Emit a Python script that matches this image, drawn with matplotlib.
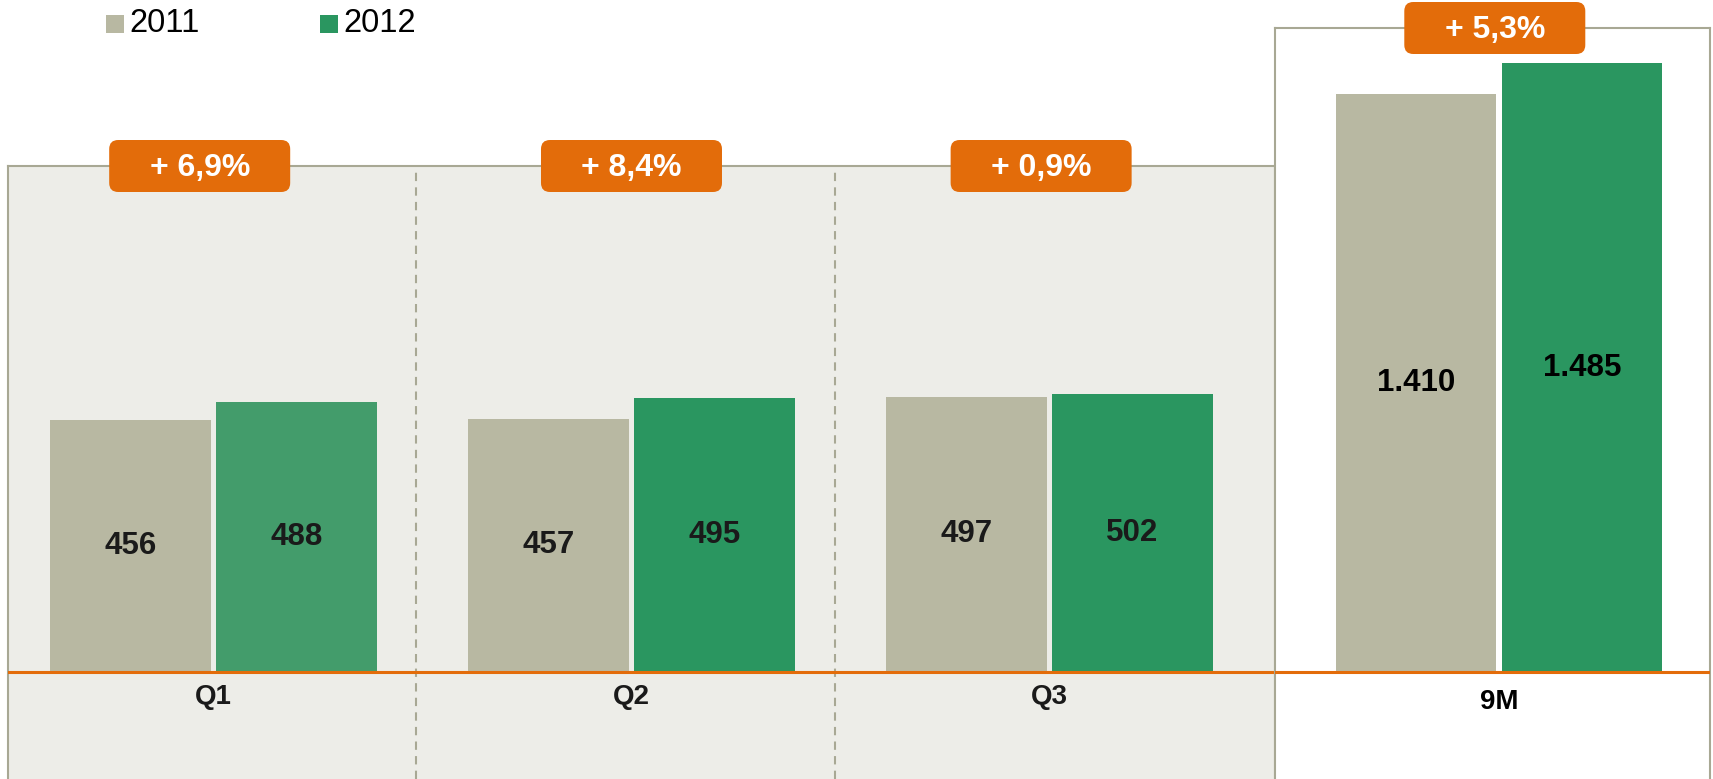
import numpy as np
import matplotlib.pyplot as plt
from matplotlib.patches import FancyBboxPatch, Rectangle
from matplotlib.transforms import IdentityTransform

# data
quarters = ['Q1', 'Q2', 'Q3']
q_2011 = [456, 457, 497]
q_2012 = [488, 495, 502]
total_label = '9M'
total_2011 = 1410
total_2012 = 1485
growth_q = ['+ 6,9%', '+ 8,4%', '+ 0,9%']
growth_total = '+ 5,3%'
series = ['2011', '2012']

# colours
c_2011 = '#B8B8A2'
c_2012 = '#2A9660'
c_2012_q1 = '#439C6B'
panel_bg = '#EDEDE8'
border = '#A8A894'
orange = '#E36C0A'

plt.rcParams['font.family'] = ['Liberation Sans', 'DejaVu Sans']

W, H = 1713, 779
fig = plt.figure(figsize=(W / 100, H / 100), dpi=100)


def px_rect(x0, y0, x1, y1):
    # pixel box (from top-left) -> figure fraction rect
    return [x0 / W, 1 - y1 / H, (x1 - x0) / W, (y1 - y0) / H]


def fmt(v):
    return f'{v:,}'.replace(',', '.')


axq = fig.add_axes(px_rect(8, 166, 1275, 779))
axm = fig.add_axes(px_rect(1275, 28, 1710, 779))

axq.set_facecolor(panel_bg)
axm.set_facecolor('white')
axq.set_xlim(-0.4916, 2.5395)
axq.set_ylim(-194, 915)
axm.set_xlim(-0.536, 0.505)
axm.set_ylim(-261, 1571)

for ax in (axq, axm):
    ax.set_xticks([])
    ax.set_yticks([])
    for side in ['top', 'left', 'right']:
        ax.spines[side].set_color(border)
        ax.spines[side].set_linewidth(1.5)
    ax.spines['bottom'].set_visible(False)

bw = 0.385
off = 0.1986
x = np.arange(len(quarters))

# quarterly bars
axq.bar(x - off, q_2011, width=bw, color=c_2011, zorder=2)
axq.bar(x + off, q_2012, width=bw, color=[c_2012_q1, c_2012, c_2012], zorder=2)
for i in range(len(quarters)):
    axq.text(x[i] - off, q_2011[i] / 2, fmt(q_2011[i]), ha='center', va='center',
             fontsize=22.5, fontweight='bold', color='#1a1a1a', zorder=4)
    axq.text(x[i] + off, q_2012[i] / 2, fmt(q_2012[i]), ha='center', va='center',
             fontsize=22.5, fontweight='bold', color='#1a1a1a', zorder=4)
    axq.annotate(quarters[i], (x[i], 0), xytext=(0, -25), textcoords='offset pixels',
                 ha='center', va='center', fontsize=20, fontweight='bold', color='#1a1a1a')

# 9M bars
axm.bar([-off], [total_2011], width=bw, color=c_2011, zorder=2)
axm.bar([off], [total_2012], width=bw, color=c_2012, zorder=2)
axm.text(-off, total_2011 / 2, fmt(total_2011), ha='center', va='center',
         fontsize=22.5, fontweight='bold', color='black', zorder=4)
axm.text(off, total_2012 / 2, fmt(total_2012), ha='center', va='center',
         fontsize=22.5, fontweight='bold', color='black', zorder=4)
axm.annotate(total_label, (0, 0), xytext=(0, -30), textcoords='offset pixels',
             ha='center', va='center', fontsize=20, fontweight='bold', color='black')

# baseline and separators
axq.axhline(0, color=orange, lw=2.2, zorder=3)
axm.axhline(0, color=orange, lw=2.2, zorder=3)
for b in [0.485, 1.487]:
    axq.axvline(b, ymax=0.99, color=border, lw=1.5, ls=(0, (4, 3)), zorder=1)


# orange growth badges
def badge(ax, xc, text):
    cx = ax.transData.transform((xc, 0))[0]
    cy = ax.transAxes.transform((0, 1))[1]
    p = FancyBboxPatch((cx - 90.5, cy - 26), 181, 52,
                       boxstyle='round,pad=0,rounding_size=9',
                       fc=orange, ec='none', transform=IdentityTransform(), zorder=10)
    fig.add_artist(p)
    fig.text(cx / W, (cy - 2) / H, text, ha='center', va='center', color='white',
             fontsize=23, fontweight='bold', zorder=11)


badge_shift = [-0.033, 0.0, -0.02]
for i in range(len(quarters)):
    badge(axq, x[i] + badge_shift[i], growth_q[i])
badge(axm, -0.01, growth_total)

# legend
for lx, name, col in zip([106, 320], series, [c_2011, c_2012]):
    sq = Rectangle((lx, H - 33), 18, 18, fc=col, ec='none', transform=IdentityTransform())
    fig.add_artist(sq)
    fig.text((lx + 23) / W, 1 - 24 / H, name, ha='left', va='center', fontsize=23.5, color='black')

fig.savefig('out.png', dpi=100)
